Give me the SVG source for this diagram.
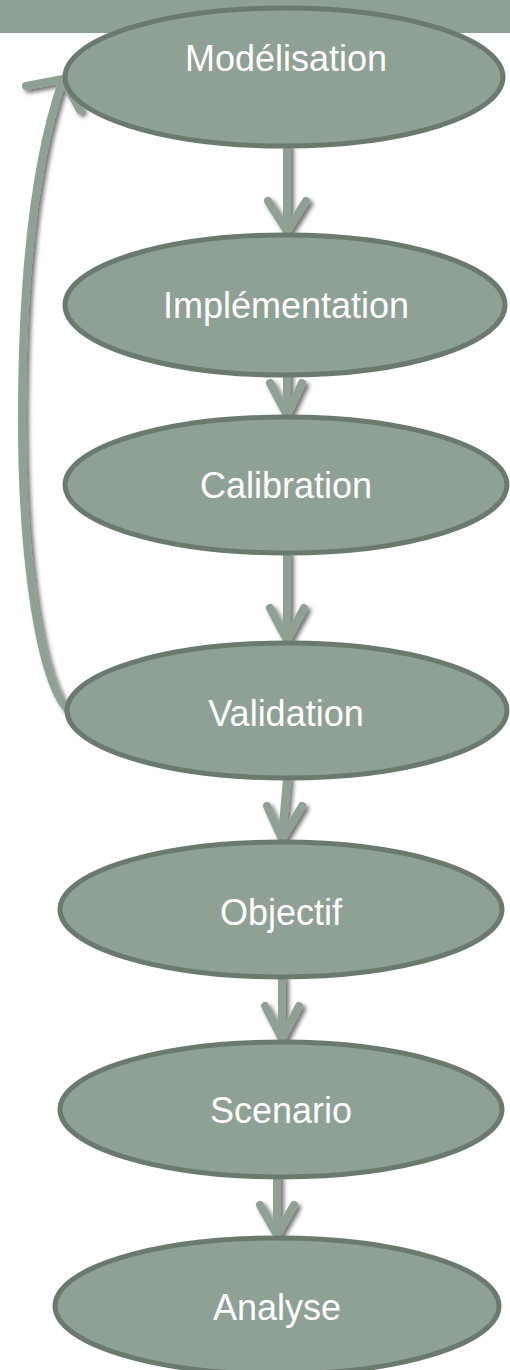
<svg xmlns="http://www.w3.org/2000/svg" width="510" height="1370" viewBox="0 0 510 1370">
<defs>
<filter id="sh" x="-50%" y="-50%" width="200%" height="200%">
<feDropShadow dx="3" dy="3" stdDeviation="2" flood-color="#000" flood-opacity="0.55"/>
</filter>
</defs>
<style>
.band{fill:#8fa095}
.node ellipse{fill:#8fa095;stroke:#6b7a6e;stroke-width:5}
.node text{font-family:"Liberation Sans",Arial,sans-serif;font-size:36px;fill:#ffffff;text-anchor:middle}
.conn path{fill:none;stroke:#8fa095;stroke-width:8;stroke-linecap:round;stroke-linejoin:miter;filter:url(#sh)}
</style>
<rect class="band" x="0" y="0" width="510" height="33"/>
<g id="connectors" class="conn">
<path d="M287 146 L287 229 M268 201 L287 231 L306 201"/>
<path d="M287 373 L287 413 M270 383 L287 415 L302 383"/>
<path d="M287 554 L287 638 M270 608 L287 640 L304 608"/>
<path d="M287 779 L282 836 M267 806 L282 839 L302 806"/>
<path d="M282 978 L282 1036 M265 1006 L282 1039 L299 1006"/>
<path d="M277 1178 L277 1232 M260 1205 L277 1235 L294 1205"/>
<path d="M68 710 C40 680 22 560 22 420 C22 260 38 150 63 79 M26 86 L63 79 L80 110"/>
</g>
<g id="modelisation" class="node"><ellipse cx="284" cy="77" rx="219" ry="69"/><text x="286" y="71">Modélisation</text></g>
<g id="implementation" class="node"><ellipse cx="285" cy="305" rx="220" ry="70"/><text x="286" y="318">Implémentation</text></g>
<g id="calibration" class="node"><ellipse cx="286" cy="485" rx="221" ry="68"/><text x="286" y="498">Calibration</text></g>
<g id="validation" class="node"><ellipse cx="287" cy="710.5" rx="220" ry="67.5"/><text x="286" y="726">Validation</text></g>
<g id="objectif" class="node"><ellipse cx="281" cy="909.5" rx="221" ry="67.5"/><text x="281" y="925">Objectif</text></g>
<g id="scenario" class="node"><ellipse cx="281" cy="1109.5" rx="221" ry="67.5"/><text x="281" y="1123">Scenario</text></g>
<g id="analyse" class="node"><ellipse cx="277" cy="1306" rx="222" ry="68"/><text x="277" y="1320">Analyse</text></g>
</svg>
